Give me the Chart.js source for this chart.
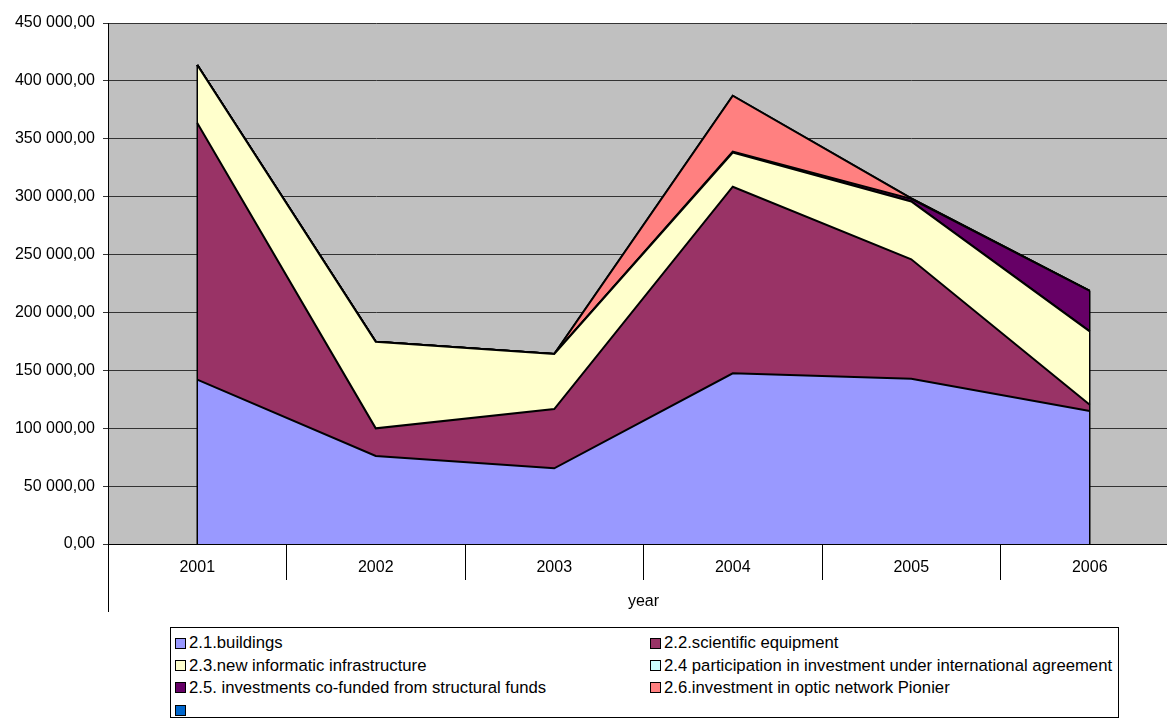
<!DOCTYPE html>
<html>
<head>
<meta charset="utf-8">
<script src="https://cdn.jsdelivr.net/npm/chart.js@4/dist/chart.umd.min.js"></script>
<style>
  html, body { margin: 0; padding: 0; background: #fff; overflow: hidden; }
  #wrap { position: absolute; left: 0; top: 0; width: 1180px; height: 622px; }
  #legend {
    position: absolute; left: 170px; top: 627px; width: 949px; height: 91px;
    border: 1px solid #000; box-sizing: border-box; background: #fff;
    font-family: "Liberation Sans", Arial, sans-serif; font-size: 16.7px; color: #000;
    display: grid; grid-template-columns: 475px auto; grid-auto-rows: 22.4px;
    padding: 4px 0 0 4px;
  }
  .li { display: flex; align-items: center; white-space: nowrap; }
  .sw { width: 9px; height: 9px; border: 1px solid #000; margin-right: 3px; flex: none; }
</style>
</head>
<body>
<div id="wrap"><canvas id="c" width="1180" height="622"></canvas></div>
<div id="legend"></div>
<script>
const years = ['2001', '2002', '2003', '2004', '2005', '2006'];
const seriesNames = [
  '2.1.buildings',
  '2.2.scientific equipment',
  '2.3.new informatic infrastructure',
  '2.4 participation in investment under international agreement',
  '2.5. investments co-funded from structural funds',
  '2.6.investment in optic network Pionier',
  ''
];
const buildings = [142000, 76000, 65400, 147400, 142800, 114800];
const scientificEquipment = [221600, 23900, 51200, 161200, 103100, 5500];
const informaticInfrastructure = [50100, 74800, 47500, 29500, 49900, 63300];
const internationalAgreement = [0, 0, 0, 0, 0, 0];
const structuralFunds = [0, 0, 0, 800, 2300, 35100];
const opticNetworkPionier = [0, 0, 0, 48300, 500, 0];
const unnamedSeries = [0, 0, 0, 0, 0, 0];
const yTicks = [0, 50000, 100000, 150000, 200000, 250000, 300000, 350000, 400000, 450000];

const colors = ['#9999FF', '#993366', '#FFFFCC', '#CCFFFF', '#660066', '#FF8080', '#0066CC'];
const seriesData = [buildings, scientificEquipment, informaticInfrastructure,
  internationalAgreement, structuralFunds, opticNetworkPionier, unnamedSeries];

const FONT = { family: '"Liberation Sans", Arial, sans-serif', size: 16 };

function fmt(v) {
  return String(Math.round(v)).replace(/\B(?=(\d{3})+(?!\d))/g, ' ') + ',00';
}

const bgPlugin = {
  id: 'bg',
  beforeDraw(chart) {
    const { ctx, chartArea: a } = chart;
    ctx.save();
    ctx.fillStyle = '#C0C0C0';
    ctx.fillRect(a.left, a.top, a.right - a.left, a.bottom - a.top);
    ctx.restore();
  },
  afterDatasetsDraw(chart) {
    const { ctx } = chart;
    const metas = chart.data.datasets.map((d, i) => chart.getDatasetMeta(i));
    const y0 = chart.scales.y.getPixelForValue(0);
    ctx.save();
    ctx.strokeStyle = '#000';
    ctx.lineWidth = 1.5;
    [0, years.length - 1].forEach(i => {
      const x = metas[0].data[i].x;
      const top = Math.min(...metas.map(m => m.data[i].y));
      ctx.beginPath();
      ctx.moveTo(x, top);
      ctx.lineTo(x, y0);
      ctx.stroke();
    });
    ctx.restore();
  },
  afterDraw(chart) {
    const { ctx, chartArea: a } = chart;
    ctx.save();
    ctx.strokeStyle = '#000';
    ctx.lineWidth = 1;
    ctx.beginPath();
    ctx.moveTo(a.left + 0.5, a.bottom);
    ctx.lineTo(a.left + 0.5, a.bottom + 68);
    ctx.stroke();
    ctx.restore();
  }
};

const chart = new Chart(document.getElementById('c'), {
  type: 'line',
  data: {
    labels: years,
    datasets: seriesData.map((d, i) => ({
      label: seriesNames[i],
      data: d,
      backgroundColor: colors[i],
      borderColor: '#000',
      borderWidth: 2,
      pointRadius: 0,
      pointHoverRadius: 0,
      tension: 0,
      fill: i === 0 ? 'origin' : '-1'
    }))
  },
  options: {
    responsive: false,
    animation: false,
    events: [],
    layout: { padding: { top: 23, left: 0, right: 1, bottom: 0 } },
    plugins: { legend: { display: false }, tooltip: { enabled: false } },
    scales: {
      x: {
        offset: true,
        grid: { offset: true, drawOnChartArea: false, tickLength: 36, color: '#000', lineWidth: 1 },
        border: { display: true, color: '#000', width: 1 },
        ticks: { color: '#000', font: FONT, padding: -22, maxRotation: 0 },
        title: { display: true, text: 'year', color: '#000', font: FONT, padding: { top: 0, bottom: 11 } },
        afterFit(s) { s.height = 78; }
      },
      y: {
        stacked: true,
        min: yTicks[0],
        max: yTicks[yTicks.length - 1],
        afterBuildTicks(s) { s.ticks = yTicks.map(v => ({ value: v })); },
        ticks: { color: '#000', font: FONT, padding: 8, callback: v => fmt(v) },
        grid: { color: '#333', lineWidth: 1, tickLength: 5 },
        border: { display: true, color: '#000', width: 1 },
        afterFit(s) { s.width = 108; }
      }
    }
  },
  plugins: [bgPlugin]
});

const legend = document.getElementById('legend');
chart.data.datasets.forEach(ds => {
  const item = document.createElement('div');
  item.className = 'li';
  const sw = document.createElement('span');
  sw.className = 'sw';
  sw.style.background = ds.backgroundColor;
  const tx = document.createElement('span');
  tx.textContent = ds.label;
  item.appendChild(sw);
  item.appendChild(tx);
  legend.appendChild(item);
});
</script>
</body>
</html>
